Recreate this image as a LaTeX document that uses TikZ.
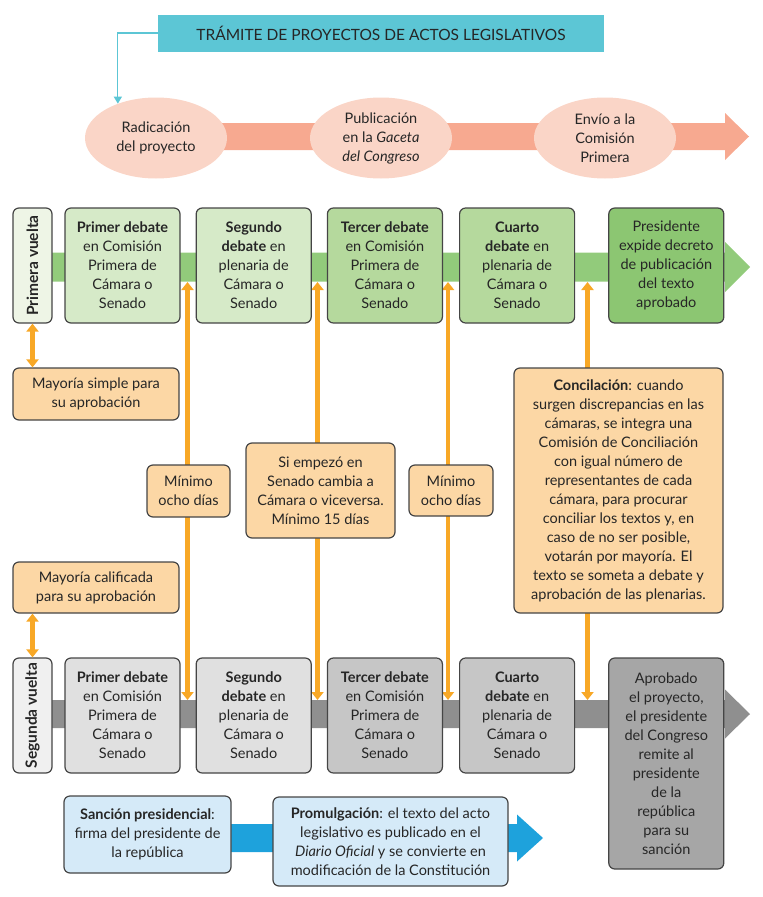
\documentclass[tikz,border=0pt]{standalone}
\usepackage{fontspec}
\setmainfont{Lato}
\usepackage{tikz}
\usetikzlibrary{shapes,arrows.meta,positioning}

\definecolor{titlecyan}{HTML}{5CC6D5}
\definecolor{ovalpink}{HTML}{FAD5C7}
\definecolor{bandpink}{HTML}{F7A990}
\definecolor{greenA}{HTML}{EEF5E6}
\definecolor{greenB}{HTML}{D6EAC8}
\definecolor{greenC}{HTML}{B5D99D}
\definecolor{greenD}{HTML}{8CC672}
\definecolor{bandgreen}{HTML}{92CB7B}
\definecolor{grayA}{HTML}{F0F0F0}
\definecolor{grayB}{HTML}{E0E0E0}
\definecolor{grayC}{HTML}{C6C6C6}
\definecolor{grayD}{HTML}{A6A6A6}
\definecolor{bandgray}{HTML}{8F8F8F}
\definecolor{notefill}{HTML}{FCD7A5}
\definecolor{lineorange}{HTML}{F8A826}
\definecolor{bluefill}{HTML}{D5EAF8}
\definecolor{bandblue}{HTML}{1EA2DC}
\definecolor{edge}{HTML}{454545}
\definecolor{ink}{HTML}{262626}

\pgfdeclarelayer{back}
\pgfsetlayers{back,main}

% arrow band: start x, base x, tip x, centre y, half shaft, half head, colour
\newcommand{\banda}[7]{%
  \fill[#7] (#1,#4-#5) -- (#2,#4-#5) -- (#2,#4-#6) -- (#3,#4)
    -- (#2,#4+#6) -- (#2,#4+#5) -- (#1,#4+#5) -- cycle;}

\begin{document}
\begin{tikzpicture}[x=1pt,y=-1pt]

% Define box styles
\tikzstyle{titlebox} = [fill=titlecyan, minimum width=446pt, minimum height=37pt,
    text=ink, font=\fontsize{15.5}{18}\selectfont]
\tikzstyle{oval} = [ellipse, fill=ovalpink, minimum width=142pt, minimum height=81pt,
    inner sep=0pt, align=center, text=ink, font=\fontsize{14.5}{19}\selectfont]
\tikzstyle{stagebox} = [draw=edge, line width=1.2pt, rectangle, rounded corners=6pt,
    minimum width=115pt, minimum height=115pt, inner sep=0pt, align=center,
    text=ink, font=\fontsize{14.5}{19}\selectfont]
\tikzstyle{turnbox} = [stagebox, minimum width=39pt, font=\fontsize{15.5}{18}\selectfont\bfseries]
\tikzstyle{notebox} = [stagebox, fill=notefill, minimum width=0pt, minimum height=0pt]
\tikzstyle{bluebox} = [stagebox, fill=bluefill, minimum height=0pt]
\tikzstyle{daysarrow} = [line width=4.5pt, draw=lineorange,
    {Triangle[width=12pt,length=8pt]}-{Triangle[width=12pt,length=8pt]}]
\tikzstyle{link} = [draw=titlecyan, line width=1.3pt, -{Triangle[width=8pt,length=7pt]}]

\useasboundingbox (0,0) rectangle (763,897);

% title and first stages
\node[titlebox] (title) at (381,33) {TRÁMITE DE PROYECTOS DE ACTOS LEGISLATIVOS};
\node[oval] (rad) at (156,138) {Radicación\\del proyecto};
\node[oval] (pub) at (381,138) {Publicación\\en la \textit{Gaceta}\\\textit{del Congreso}};
\node[oval] (env) at (605,138) {Envío a la\\Comisión\\Primera};

% primera vuelta
\node[turnbox, fill=greenA] (pv) at (32.5,265.5) {\rotatebox{90}{Primera vuelta}};
\node[stagebox, fill=greenB] (p1) at (122.5,265.5)
    {\textbf{Primer debate}\\en Comisión\\Primera de\\Cámara o\\Senado};
\node[stagebox, fill=greenB, right=15pt of p1] (p2)
    {\textbf{Segundo}\\\textbf{debate} en\\plenaria de\\Cámara o\\Senado};
\node[stagebox, fill=greenC, right=15pt of p2] (p3)
    {\textbf{Tercer debate}\\en Comisión\\Primera de\\Cámara o\\Senado};
\node[stagebox, fill=greenC, right=16pt of p3] (p4)
    {\textbf{Cuarto}\\\textbf{debate} en\\plenaria de\\Cámara o\\Senado};
\node[stagebox, fill=greenD, right=33pt of p4] (p5)
    {Presidente\\expide decreto\\de publicación\\del texto\\aprobado};

% segunda vuelta
\node[turnbox, fill=grayA] (qv) at (32.5,715.5) {\rotatebox{90}{Segunda vuelta}};
\node[stagebox, fill=grayB] (q1) at (122.5,715.5)
    {\textbf{Primer debate}\\en Comisión\\Primera de\\Cámara o\\Senado};
\node[stagebox, fill=grayB, right=15pt of q1] (q2)
    {\textbf{Segundo}\\\textbf{debate} en\\plenaria de\\Cámara o\\Senado};
\node[stagebox, fill=grayC, right=15pt of q2] (q3)
    {\textbf{Tercer debate}\\en Comisión\\Primera de\\Cámara o\\Senado};
\node[stagebox, fill=grayC, right=16pt of q3] (q4)
    {\textbf{Cuarto}\\\textbf{debate} en\\plenaria de\\Cámara o\\Senado};
\node[stagebox, fill=grayD, minimum height=211pt, right=33pt of q4.north east, anchor=north west] (q5)
    {Aprobado\\el proyecto,\\el presidente\\del Congreso\\remite al\\presidente\\de la\\república\\para su\\sanción};

% notes
\node[notebox, minimum width=166pt, minimum height=52pt] (msimple) at (96,394)
    {Mayoría simple para\\su aprobación};
\node[notebox, minimum width=83pt, minimum height=52pt] (dias1) at (188.5,491)
    {Mínimo\\ocho días};
\node[notebox, minimum width=149pt, minimum height=95pt] (cambio) at (320.5,490.5)
    {Si empezó en\\Senado cambia a\\Cámara o viceversa.\\Mínimo 15 días};
\node[notebox, minimum width=84pt, minimum height=51pt] (dias2) at (451,490.5)
    {Mínimo\\ocho días};
\node[notebox, minimum width=209pt, minimum height=245pt] (concil) at (618.5,490.5)
    {\textbf{Concilación}: cuando\\surgen discrepancias en las\\cámaras, se integra una\\Comisión de Conciliación\\con igual número de\\representantes de cada\\cámara, para procurar\\conciliar los textos y, en\\caso de no ser posible,\\votarán por mayoría. El\\texto se someta a debate y\\aprobación de las plenarias.};
\node[notebox, minimum width=166pt, minimum height=51pt] (mcalif) at (96,587.5)
    {Mayoría calificada\\para su aprobación};

% sancion and promulgacion
\node[bluebox, minimum width=167pt, minimum height=77pt] (sancion) at (147.5,834.5)
    {\textbf{Sanción presidencial}:\\firma del presidente de\\la república};
\node[bluebox, minimum width=235pt, minimum height=89pt] (promul) at (390.5,841.5)
    {\textbf{Promulgación}: el texto del acto\\legislativo es publicado en el\\\textit{Diario Oficial} y se convierte en\\modificación de la Constitución};

\draw[link] (title.west) -| (rad.138);
\draw[daysarrow] (pv.south) -- (pv.south |- msimple.north);
\draw[daysarrow] (qv.north |- mcalif.south) -- (qv.north);

\begin{pgfonlayer}{back}
\banda{156}{725}{749}{136.5}{13.5}{23.5}{bandpink}
\banda{32}{725}{750}{267}{14.5}{25}{bandgreen}
\banda{32}{725}{750}{714}{14}{24.5}{bandgray}
\banda{147}{517}{543}{838}{14}{23.5}{bandblue}
\foreach \g/\x in {a/187.5,b/317.5,c/448,d/587.5}{
  \coordinate (top\g) at (\x,282);
  \coordinate (bot\g) at (\x,700);
  \draw[daysarrow] (top\g) -- (bot\g);
}
\end{pgfonlayer}
\end{tikzpicture}
\end{document}
